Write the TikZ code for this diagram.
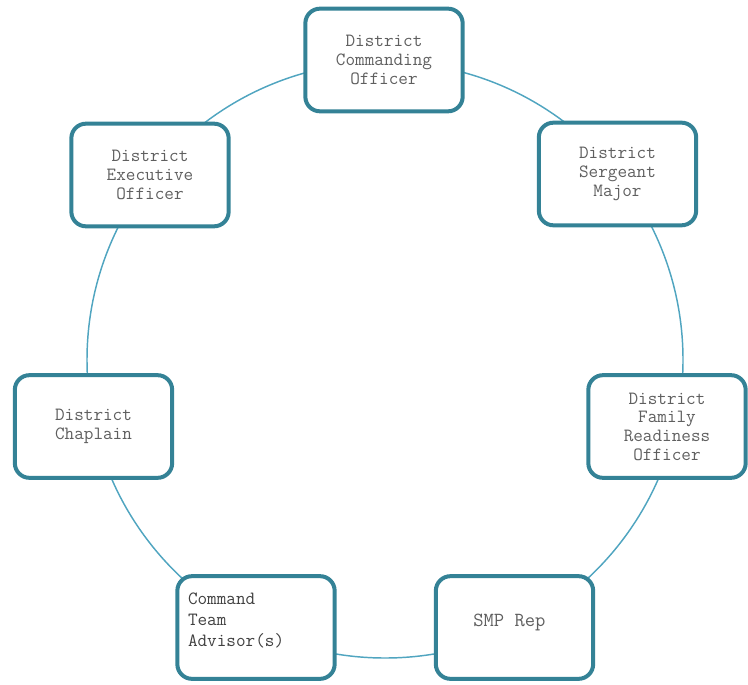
\documentclass[tikz,border=0pt]{standalone}
\definecolor{ringblue}{RGB}{80,165,192}
\definecolor{boxteal}{RGB}{52,130,150}
\definecolor{labelgray}{RGB}{95,95,95}
\tikzset{
    post/.style={draw=boxteal, line width=3pt, rounded corners=11pt, fill=white,
        minimum width=118pt, minimum height=77pt, align=center, text=labelgray,
        font=\ttfamily\fontsize{14}{14}\selectfont},
    ring/.style={draw=ringblue, line width=1.1pt}
}
\begin{document}
\begin{tikzpicture}[x=0.75pt, y=-0.75pt]
    \useasboundingbox (0, 0) rectangle (748, 684);
    \coordinate (hub) at (385, 360);
    \draw [ring] (hub) circle [radius=223.5pt];
    \node [post] (co) at (384, 60) {District\\Commanding\\Officer};
    \node [post] (xo) at (150, 175) {District\\Executive\\Officer};
    \node [post] (sgm) at (617.5, 174) {District\\Sergeant\\Major};
    \node [post] (chap) at (93.5, 426.5) {District\\Chaplain};
    \node [post] (frso) at (667, 426.5) {District\\Family\\Readiness\\Officer};
    \node [post, align=left, text width=102pt, text=black!75,
        font=\ttfamily\fontsize{14}{15.5}\selectfont] (cta) at (256, 627.5) {Command\\Team\\Advisor(s)\\[-4pt]\mbox{}};
    \node [post, font=\ttfamily\fontsize{15}{15}\selectfont] (smp) at (514.5, 627.5) {SMP Rep\phantom{x}\\[-4pt]\mbox{}};
\end{tikzpicture}
\end{document}
